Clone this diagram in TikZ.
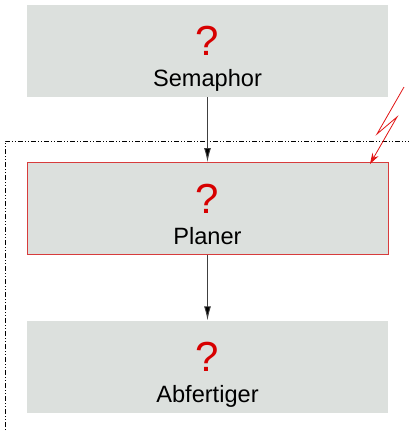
\documentclass[tikz,border=0pt]{standalone}
\usepackage{fontspec}
\setmainfont{Liberation Sans}
\usetikzlibrary{arrows.meta}
\definecolor{boxfill}{RGB}{220,224,221}
\definecolor{qred}{RGB}{215,0,0}
\definecolor{edgered}{RGB}{215,60,60}
\definecolor{boltred}{RGB}{225,20,20}
\begin{document}
\begin{tikzpicture}[x=1pt,y=-1pt,
  modbox/.style={draw=none,fill=boxfill,minimum width=361pt,minimum height=92pt,inner sep=0pt},
  activebox/.style={modbox,draw=edgered,line width=1pt},
  qmark/.style={anchor=base,text=qred,font=\fontsize{42}{42}\selectfont,inner sep=0pt},
  modname/.style={anchor=base,font=\fontsize{23.6}{24}\selectfont,inner sep=0pt},
  flow/.style={draw=black!75,line width=0.9pt,-{Latex[length=14pt,width=7pt,fill=black]}},
  bolt/.style={draw=boltred,line width=0.8pt,-{Stealth[length=11pt,width=7pt]}},
  zone/.style={draw=black,line width=0.9pt,dash pattern=on 5pt off 2pt on 1pt off 2pt on 1pt off 2pt}]
\useasboundingbox (0,0) rectangle (408,432);

% dash-dotted zone around Planer and Abfertiger
\draw[zone] (5,440) -- (5,141) -- (415,141);

% module boxes
\node[modbox]    (sem)  at (207.5,51)    {};
\node[activebox] (plan) at (207.5,208.5) {};
\node[modbox]    (abf)  at (207.5,366.5) {};

% labels inside the boxes (canvas yshift points up, so go negative)
\node[qmark]   (semq)  at ([yshift=-51pt]sem.north)  {?};
\node[modname] (semt)  at ([yshift=-82pt]sem.north)  {Semaphor};
\node[qmark]   (planq) at ([yshift=-51pt]plan.north) {?};
\node[modname] (plant) at ([yshift=-82pt]plan.north) {Planer};
\node[qmark]   (abfq)  at ([yshift=-51pt]abf.north)  {?};
\node[modname] (abft)  at ([yshift=-82pt]abf.north)  {Abfertiger};

% control flow
\draw[flow] (sem.south) -- (plan.north);
\draw[flow] (plan.south) -- (abf.north);

% interrupt striking the Planer
\coordinate (boltA) at (404,87);
\coordinate (boltB) at (377,134);
\coordinate (boltC) at (397,117);
\coordinate (hit) at (370,164);
\draw[bolt] (boltA) -- (boltB) -- (boltC) -- (hit);
\end{tikzpicture}
\end{document}
